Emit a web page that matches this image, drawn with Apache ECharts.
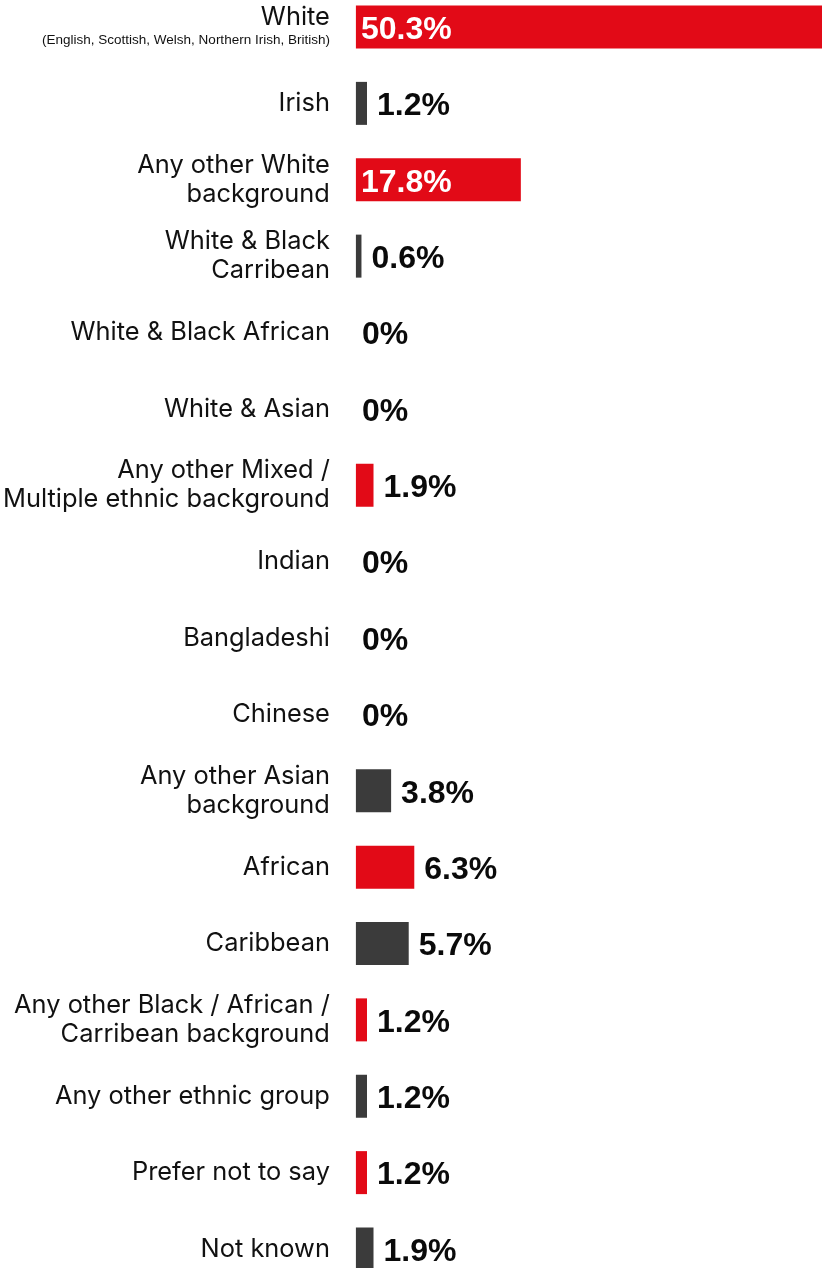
<!DOCTYPE html>
<html>
<head>
<meta charset="utf-8">
<style>
  html, body { margin: 0; padding: 0; background: #ffffff; }
  #chart { width: 824px; height: 1268px; }
</style>
<script src="https://cdn.jsdelivr.net/npm/echarts@6/dist/echarts.min.js"></script>
</head>
<body>
<div id="chart"></div>
<script>
// Ethnic background breakdown (% of respondents)
const categories = [
  'White',
  'Irish',
  'Any other White\nbackground',
  'White & Black\nCarribean',
  'White & Black African',
  'White & Asian',
  'Any other Mixed /\nMultiple ethnic background',
  'Indian',
  'Bangladeshi',
  'Chinese',
  'Any other Asian\nbackground',
  'African',
  'Caribbean',
  'Any other Black / African /\nCarribean background',
  'Any other ethnic group',
  'Prefer not to say',
  'Not known'
];
const whiteSubtitle = '(English, Scottish, Welsh, Northern Irish, British)';
const percentages = [50.3, 1.2, 17.8, 0.6, 0, 0, 1.9, 0, 0, 0, 3.8, 6.3, 5.7, 1.2, 1.2, 1.2, 1.9];

const RED = '#e20a17';
const DARK = '#3b3b3b';
const FONT = 'Inter, "Noto Sans", sans-serif';
const VALUE_FONT = '"Liberation Sans", Arial, sans-serif';
const PX_PER_UNIT = 467 / 50.3;   // plot width over axis max
const LABEL_WIDTH = 100;          // room a bold value label needs inside a bar

// Bars alternate red / dark, counting only non-zero bars
let nonZero = 0;
const barData = percentages.map(function (v) {
  const color = v > 0 ? (nonZero++ % 2 === 0 ? RED : DARK) : RED;
  const inside = v * PX_PER_UNIT >= LABEL_WIDTH;
  return {
    value: v,
    itemStyle: { color: color },
    label: inside
      ? { position: 'insideLeft', distance: 5, color: '#ffffff' }
      : { position: 'right', distance: v > 0 ? 10 : 6, color: '#0a0a0a' }
  };
});

const chart = echarts.init(document.getElementById('chart'), null, { renderer: 'canvas' });
chart.setOption({
  animation: false,
  backgroundColor: '#ffffff',
  // category ticks sit on row centres (boundaryGap off)
  grid: { left: 355, right: 2, top: 27, height: 1222, containLabel: false },
  xAxis: {
    type: 'value',
    min: 0,
    max: 50.3,
    show: false
  },
  yAxis: {
    type: 'category',
    inverse: true,
    boundaryGap: false,
    data: categories,
    axisLine: { show: false },
    axisTick: { show: false },
    splitLine: { show: false },
    axisLabel: {
      margin: 26,
      color: '#111111',
      fontFamily: FONT,
      fontSize: 25.4,
      lineHeight: 29,
      align: 'right',
      formatter: function (value) {
        if (value === 'White') {
          return '{main|White}\n{sub|' + whiteSubtitle + '}';
        }
        return value;
      },
      rich: {
        main: { fontFamily: FONT, fontSize: 25.4, lineHeight: 26, color: '#111111', align: 'right' },
        sub: { fontFamily: '"Liberation Sans Narrow", "Liberation Sans", sans-serif', fontSize: 13.5, lineHeight: 20, color: '#111111', align: 'right' }
      }
    }
  },
  series: [{
    type: 'bar',
    data: barData,
    barWidth: 43,
    label: {
      show: true,
      fontFamily: VALUE_FONT,
      fontSize: 32,
      fontWeight: 'bold',
      offset: [0, 3],
      formatter: function (p) { return p.value + '%'; }
    }
  }]
});
</script>
</body>
</html>
